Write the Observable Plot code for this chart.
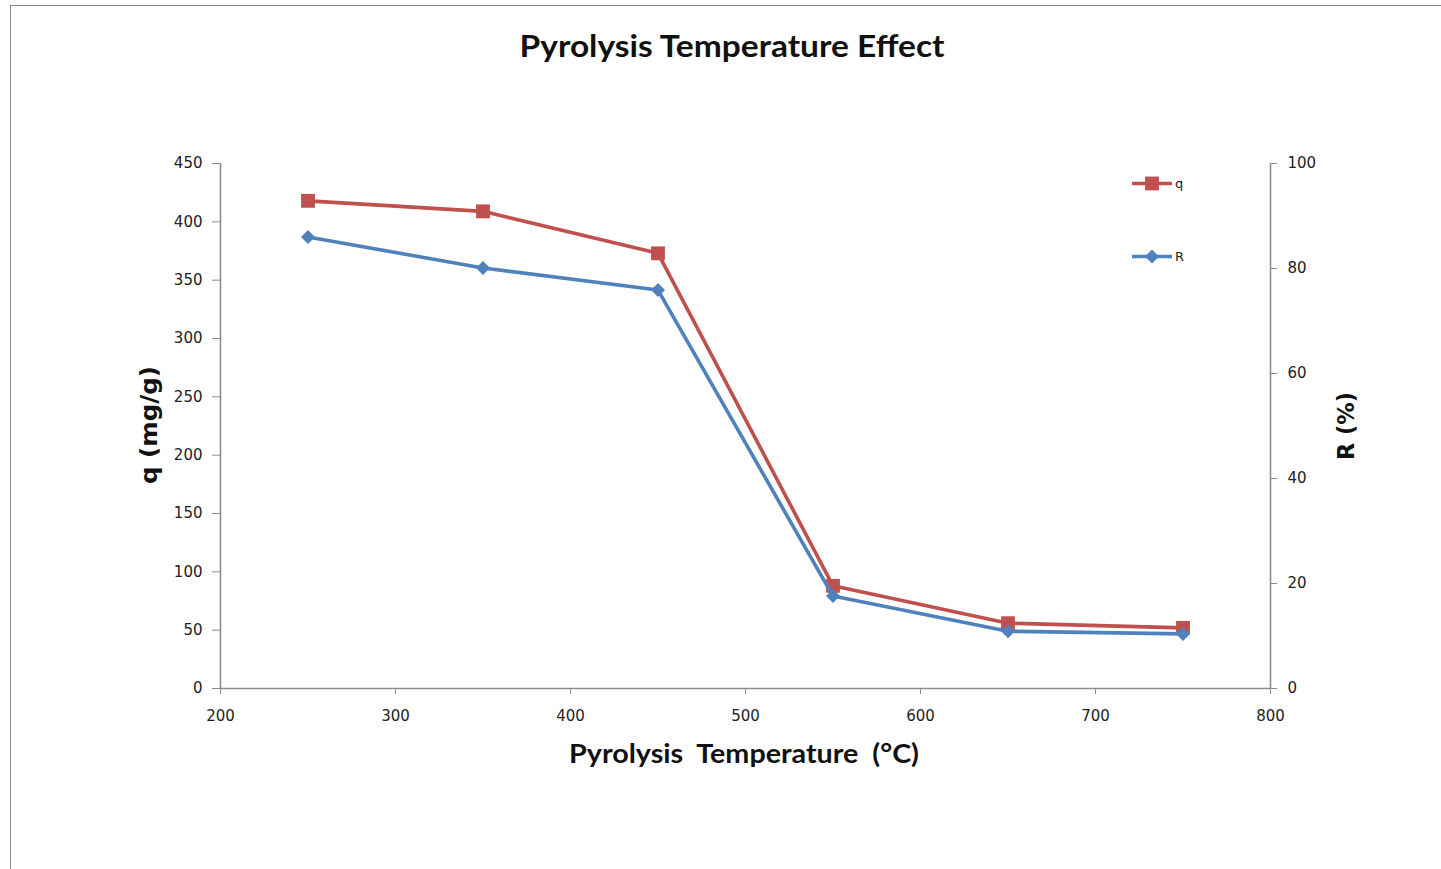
<!DOCTYPE html>
<html>
<head>
<meta charset="utf-8">
<script src="https://cdn.jsdelivr.net/npm/d3@7"></script>
<script src="https://cdn.jsdelivr.net/npm/@observablehq/plot@0.6"></script>
<style>
  html, body { margin: 0; padding: 0; background: #fff; }
  #wrap { position: relative; width: 1441px; height: 869px; overflow: hidden; }
  #wrap > svg { position: absolute; left: 0; top: 0; }
  #border { position: absolute; left: 10px; top: 5px; right: -5px; bottom: -5px;
            border-top: 1.5px solid #8a8a8a; border-left: 1.5px solid #8a8a8a; }
</style>
</head>
<body>
<div id="wrap"><div id="border"></div></div>
<script>
// ---- data ----
const temperatures = [250, 350, 450, 550, 650, 750];
const qValues = [418, 409, 373, 88, 56, 52];          // q (mg/g), left axis
const rValues = [86.0, 80.1, 75.9, 17.6, 10.9, 10.4]; // R (%), right axis
const xTicks = [200, 300, 400, 500, 600, 700, 800];
const qTicks = [0, 50, 100, 150, 200, 250, 300, 350, 400, 450];
const rTicks = [0, 20, 40, 60, 80, 100];
const seriesNames = ["q", "R"];
const seriesColors = ["#C0504D", "#4F81BD"];
const titleText = "Pyrolysis Temperature Effect";
const xLabel = "Pyrolysis  Temperature  (°C)";
const yLeftLabel = "q (mg/g)";
const yRightLabel = "R (%)";

const qMax = 450, rMax = 100;
const rToQ = v => v * qMax / rMax;

const qData = temperatures.map((t, i) => ({t, v: qValues[i]}));
const rData = temperatures.map((t, i) => ({t, v: rToQ(rValues[i])}));

const axisGray = "#8c8c8c";
const squareR = 7.8, diamondR = 6.3;
const chart = Plot.plot({
  width: 1441, height: 869,
  marginLeft: 220, marginRight: 171, marginTop: 163, marginBottom: 181,
  x: {domain: [200, 800]},
  y: {domain: [0, qMax]},
  style: {fontFamily: "DejaVu Sans", fontSize: "15px", color: "#222", background: "transparent"},
  marks: [
    Plot.ruleX([200], {stroke: axisGray, strokeWidth: 1.6}),
    Plot.ruleX([800], {stroke: axisGray, strokeWidth: 1.6}),
    Plot.ruleY([0], {stroke: axisGray, strokeWidth: 1.6}),
    Plot.axisX({ticks: xTicks, tickSize: 6, tickPadding: 16, stroke: axisGray, fill: "#222", label: null, tickFormat: d => String(d)}),
    Plot.axisY({ticks: qTicks, tickSize: 8, tickPadding: 10, stroke: axisGray, fill: "#222", label: null, tickFormat: d => String(d)}),
    Plot.axisY({anchor: "right", ticks: rTicks.map(rToQ), tickSize: 6, tickPadding: 11, stroke: axisGray, fill: "#222", label: null,
                tickFormat: d => String(Math.round(d * rMax / qMax))}),
    Plot.line(qData, {x: "t", y: "v", stroke: seriesColors[0], strokeWidth: 3.6}),
    Plot.dot(qData, {x: "t", y: "v", symbol: "square", r: squareR, fill: seriesColors[0], stroke: "none"}),
    Plot.line(rData, {x: "t", y: "v", stroke: seriesColors[1], strokeWidth: 3.6}),
    Plot.dot(rData, {x: "t", y: "v", symbol: "diamond2", r: diamondR, fill: seriesColors[1], stroke: "none"})
  ]
});
const wrap = document.getElementById("wrap");
wrap.appendChild(chart);

// ---- overlay: titles and legend ----
const ov = d3.select(wrap).append("svg")
  .attr("width", 1441).attr("height", 869)
  .style("font-family", "Lato, 'Open Sans', sans-serif");

ov.append("text").text(titleText)
  .attr("x", 732).attr("y", 57).attr("text-anchor", "middle")
  .attr("font-size", 31).attr("font-weight", 700).attr("fill", "#111")
  .attr("textLength", 425).attr("lengthAdjust", "spacingAndGlyphs");

ov.append("text").text(xLabel)
  .style("white-space", "pre")
  .attr("x", 744).attr("y", 763).attr("text-anchor", "middle")
  .attr("font-size", 26).attr("font-weight", 700).attr("fill", "#111")
  .attr("textLength", 350).attr("lengthAdjust", "spacingAndGlyphs");

ov.append("text").text(yLeftLabel)
  .attr("transform", "translate(157,425) rotate(-90)")
  .attr("text-anchor", "middle").attr("font-family", "DejaVu Sans")
  .attr("font-size", 23).attr("font-weight", 700).attr("fill", "#111")
  .attr("textLength", 118).attr("lengthAdjust", "spacingAndGlyphs");

ov.append("text").text(yRightLabel)
  .attr("transform", "translate(1354,426) rotate(-90)")
  .attr("text-anchor", "middle").attr("font-family", "DejaVu Sans")
  .attr("font-size", 23).attr("font-weight", 700).attr("fill", "#111")
  .attr("textLength", 68).attr("lengthAdjust", "spacingAndGlyphs");

// legend
const legendY = [183.5, 256.5];
const symbols = [d3.symbolSquare, d3.symbolDiamond2];
const symSizes = [Math.PI * squareR * squareR, Math.PI * diamondR * diamondR];
seriesNames.forEach((name, i) => {
  const g = ov.append("g").attr("transform", `translate(0,${legendY[i]})`);
  g.append("line").attr("x1", 1132).attr("x2", 1172).attr("y1", 0).attr("y2", 0)
    .attr("stroke", seriesColors[i]).attr("stroke-width", 3.6);
  g.append("path").attr("transform", "translate(1152,0)")
    .attr("d", d3.symbol(symbols[i], symSizes[i])()).attr("fill", seriesColors[i]);
  g.append("text").text(name).attr("x", 1175).attr("y", 0).attr("dy", "0.35em")
    .attr("font-family", "DejaVu Sans").attr("font-size", 13).attr("fill", "#222");
});
</script>
</body>
</html>
